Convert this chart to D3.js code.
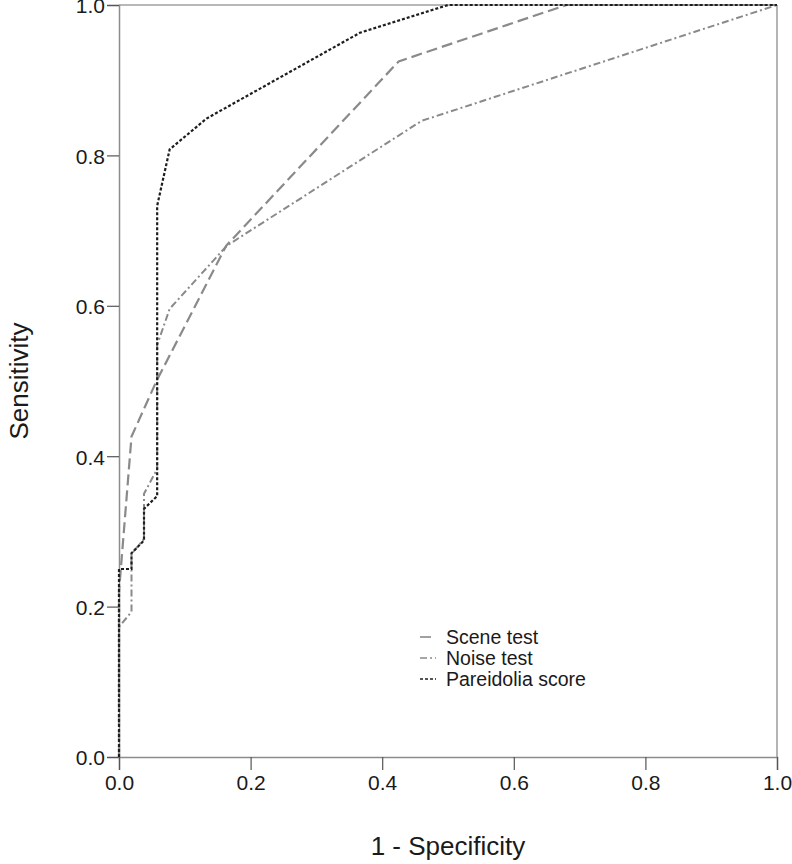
<!DOCTYPE html>
<html>
<head lang="en">
  <meta charset="UTF-8">
<title>ROC curves</title>
<style>
body { margin: 0; background: #fff; }
.tick text { font-family: "Liberation Sans", Arial, sans-serif; font-size: 21px; fill: #1a1a1a; }
.title { font-family: "Liberation Sans", Arial, sans-serif; font-size: 26px; fill: #1a1a1a; }
.legend { font-family: "Liberation Sans", Arial, sans-serif; font-size: 19.5px; fill: #1a1a1a; }
</style>
<script src="https://cdn.jsdelivr.net/npm/d3@7/dist/d3.min.js"></script>
</head>
<body>
<div id="vis"></div>
<script>

// ROC points (1 - specificity, sensitivity)
var sceneFpr = [0, 0, 0.019, 0.057, 0.163, 0.425, 0.68, 1];
var sceneTpr = [0, 0.22, 0.426, 0.50, 0.68, 0.925, 1, 1];

var noiseFpr = [0, 0, 0.019, 0.019, 0.038, 0.038, 0.058, 0.058, 0.077, 0.164, 0.46, 1];
var noiseTpr = [0, 0.173, 0.193, 0.27, 0.29, 0.35, 0.383, 0.548, 0.596, 0.68, 0.846, 1];

var parFpr = [0, 0, 0.019, 0.019, 0.038, 0.038, 0.058, 0.058, 0.077, 0.133, 0.366, 0.5, 1];
var parTpr = [0, 0.25, 0.25, 0.271, 0.288, 0.33, 0.347, 0.733, 0.808, 0.849, 0.963, 1, 1];

var seriesNames = ["Scene test", "Noise test", "Pareidolia score"];
var tickValues = [0, 0.2, 0.4, 0.6, 0.8, 1.0];

// canvas
var margin = {top: 5, bottom: 107, left: 119, right: 15};
var width = 792 - margin.left - margin.right;
var height = 864 - margin.top - margin.bottom;

var svg = d3.select("#vis").append("svg")
  .attr("width", 792)
  .attr("height", 864);

var g = svg.append("g")
  .attr("transform", "translate(" + margin.left + "," + margin.top + ")");

var x = d3.scaleLinear().domain([0, 1]).range([0, width]);
var y = d3.scaleLinear().domain([0, 1]).range([height, 0]);

// frame top + right (lighter)
g.append("line")
  .attr("x1", x(0)).attr("x2", x(1))
  .attr("y1", y(1)).attr("y2", y(1))
  .attr("stroke", "#a0a0a0").attr("stroke-width", 1.5);
g.append("line")
  .attr("x1", x(1)).attr("x2", x(1))
  .attr("y1", y(1)).attr("y2", y(0))
  .attr("stroke", "#b4b4b4").attr("stroke-width", 2);

// axes
var yAxis = g.append("g")
  .call(d3.axisLeft(y).tickValues(tickValues).tickFormat(d3.format(".1f")).tickSize(12).tickPadding(2));
var xAxis = g.append("g")
  .attr("transform", "translate(0," + height + ")")
  .call(d3.axisBottom(x).tickValues(tickValues).tickFormat(d3.format(".1f")).tickSize(13).tickPadding(5));

[yAxis, xAxis].forEach(function(a) {
  a.select(".domain").attr("stroke", "#8c8c8c").attr("stroke-width", 1.5);
  a.selectAll(".tick line").attr("stroke", "#555").attr("stroke-width", 1.2);
});
yAxis.selectAll(".tick text").attr("dy", "0.38em");

// curves
var series = [
  {name: seriesNames[0], fx: sceneFpr, ty: sceneTpr, color: "#8a8a8a", dash: "11,5", w: 2.2},
  {name: seriesNames[1], fx: noiseFpr, ty: noiseTpr, color: "#8a8a8a", dash: "7,3,2,3", w: 2},
  {name: seriesNames[2], fx: parFpr, ty: parTpr, color: "#1e1e1e", dash: "3,2", w: 2.2}
];

var line = d3.line()
  .x(function(d) { return x(d[0]); })
  .y(function(d) { return y(d[1]); });

series.forEach(function(s) {
  var pts = s.fx.map(function(v, i) { return [v, s.ty[i]]; });
  g.append("path")
    .datum(pts)
    .attr("d", line)
    .attr("fill", "none")
    .attr("stroke", s.color)
    .attr("stroke-width", s.w)
    .attr("stroke-dasharray", s.dash);
});

// axis titles
svg.append("text")
  .attr("class", "title")
  .attr("text-anchor", "middle")
  .attr("x", margin.left + width / 2)
  .attr("y", 855)
  .text("1 - Specificity");

svg.append("text")
  .attr("class", "title")
  .attr("text-anchor", "middle")
  .attr("transform", "translate(28," + (margin.top + height / 2) + ") rotate(-90)")
  .text("Sensitivity");

// legend
var legend = svg.append("g").attr("transform", "translate(420,637)");
series.forEach(function(s, i) {
  var row = legend.append("g").attr("transform", "translate(0," + (i * 21) + ")");
  row.append("line")
    .attr("x1", 0).attr("x2", 16)
    .attr("y1", 0).attr("y2", 0)
    .attr("stroke", s.color)
    .attr("stroke-width", 1.6)
    .attr("stroke-dasharray", s.dash);
  row.append("text")
    .attr("class", "legend")
    .attr("x", 26)
    .attr("dy", "0.36em")
    .text(s.name);
});

</script>
</body>
</html>
